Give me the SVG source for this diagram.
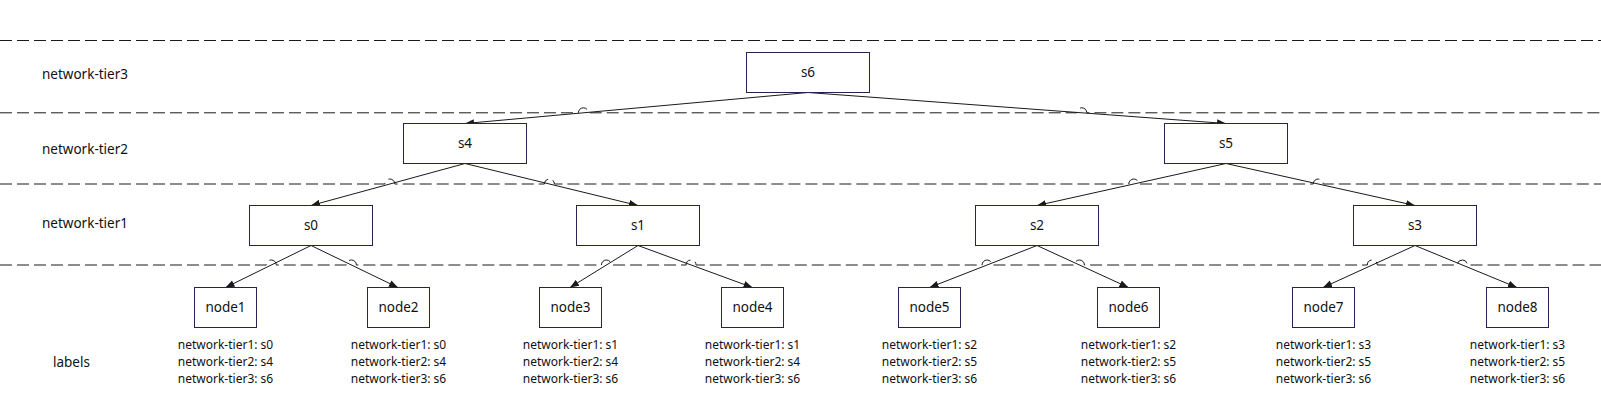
<svg xmlns="http://www.w3.org/2000/svg" width="1601" height="417" viewBox="0 0 1601 417">
<style>
  .tier { fill: none; stroke: #1a1a1a; stroke-width: 1; stroke-dasharray: 12 5; }
  .box { fill: #ffffff; stroke: #24244e; stroke-width: 1; }
  .edge { fill: none; stroke: #1a1a1a; stroke-width: 1; }
  .t { font-family: "Noto Sans", "Open Sans", sans-serif; fill: #111111; }
  .big { font-size: 13.5px; }
  .lbl { font-size: 12px; text-anchor: middle; }
  .c { text-anchor: middle; }
</style>
<defs>
  <marker id="arr" markerUnits="userSpaceOnUse" markerWidth="10" markerHeight="8" refX="9" refY="3.5" orient="auto">
    <path d="M0,0 L9,3.5 L0,7 z" fill="#1a1a1a"/>
  </marker>
</defs>
<rect width="1601" height="417" fill="#ffffff"/>

<g id="tiers">
  <path class="tier" d="M0,40.5 H1601"/>
  <path class="tier" d="M0,112.8 H578.4 A5,5 0 0 1 588.4,112.8 H1076.8 A5,5 0 0 1 1086.8,112.8 H1601"/>
  <path class="tier" d="M0,184 H384.8 A5,5 0 0 1 394.8,184 H544.4 A5,5 0 0 1 554.4,184 H1128.8 A5,5 0 0 1 1138.8,184 H1313.2 A5,5 0 0 1 1323.2,184 H1601"/>
  <path class="tier" d="M0,265 H266.3 A5,5 0 0 1 276.3,265 H346.4 A5,5 0 0 1 356.4,265 H601.4 A5,5 0 0 1 611.4,265 H686.1 A5,5 0 0 1 696.1,265 H982.1 A5,5 0 0 1 992.1,265 H1074.4 A5,5 0 0 1 1084.4,265 H1367.3 A5,5 0 0 1 1377.3,265 H1457.3 A5,5 0 0 1 1467.3,265 H1601"/>
  <text class="t big" x="42" y="78.7">network-tier3</text>
  <text class="t big" x="42" y="153.7">network-tier2</text>
  <text class="t big" x="42" y="227.7">network-tier1</text>
  <text class="t big" x="53" y="366.7">labels</text>
</g>

<g id="connectors">
  <line class="edge" x1="808" y1="92.5" x2="465" y2="123.5" marker-end="url(#arr)"/>
  <line class="edge" x1="808" y1="92.5" x2="1226" y2="123.5" marker-end="url(#arr)"/>
  <line class="edge" x1="465" y1="163.5" x2="311" y2="205.5" marker-end="url(#arr)"/>
  <line class="edge" x1="465" y1="163.5" x2="638" y2="205.5" marker-end="url(#arr)"/>
  <line class="edge" x1="1226" y1="163.5" x2="1037" y2="205.5" marker-end="url(#arr)"/>
  <line class="edge" x1="1226" y1="163.5" x2="1415" y2="205.5" marker-end="url(#arr)"/>
  <line class="edge" x1="311" y1="245.5" x2="225.5" y2="287.5" marker-end="url(#arr)"/>
  <line class="edge" x1="311" y1="245.5" x2="398" y2="287.5" marker-end="url(#arr)"/>
  <line class="edge" x1="638" y1="245.5" x2="570" y2="287.5" marker-end="url(#arr)"/>
  <line class="edge" x1="638" y1="245.5" x2="752.5" y2="287.5" marker-end="url(#arr)"/>
  <line class="edge" x1="1037" y1="245.5" x2="929.5" y2="287.5" marker-end="url(#arr)"/>
  <line class="edge" x1="1037" y1="245.5" x2="1128.5" y2="287.5" marker-end="url(#arr)"/>
  <line class="edge" x1="1415" y1="245.5" x2="1323" y2="287.5" marker-end="url(#arr)"/>
  <line class="edge" x1="1415" y1="245.5" x2="1517" y2="287.5" marker-end="url(#arr)"/>
</g>

<g id="s6"><rect class="box" x="746.5" y="52.5" width="123" height="40"/><text class="t big c" x="808" y="77.2">s6</text></g>
<g id="s4"><rect class="box" x="403.5" y="123.5" width="123" height="40"/><text class="t big c" x="465" y="148.2">s4</text></g>
<g id="s5"><rect class="box" x="1164.5" y="123.5" width="123" height="40"/><text class="t big c" x="1226" y="148.2">s5</text></g>
<g id="s0"><rect class="box" x="249.5" y="205.5" width="123" height="40"/><text class="t big c" x="311" y="230.2">s0</text></g>
<g id="s1"><rect class="box" x="576.5" y="205.5" width="123" height="40"/><text class="t big c" x="638" y="230.2">s1</text></g>
<g id="s2"><rect class="box" x="975.5" y="205.5" width="123" height="40"/><text class="t big c" x="1037" y="230.2">s2</text></g>
<g id="s3"><rect class="box" x="1353.5" y="205.5" width="123" height="40"/><text class="t big c" x="1415" y="230.2">s3</text></g>

<g id="node1"><rect class="box" x="194.5" y="287.5" width="62" height="40"/><text class="t big c" x="225.5" y="312">node1</text>
  <text class="t lbl" x="225.5" y="348.5">network-tier1: s0</text><text class="t lbl" x="225.5" y="365.5">network-tier2: s4</text><text class="t lbl" x="225.5" y="382.5">network-tier3: s6</text></g>
<g id="node2"><rect class="box" x="367.5" y="287.5" width="62" height="40"/><text class="t big c" x="398.5" y="312">node2</text>
  <text class="t lbl" x="398.5" y="348.5">network-tier1: s0</text><text class="t lbl" x="398.5" y="365.5">network-tier2: s4</text><text class="t lbl" x="398.5" y="382.5">network-tier3: s6</text></g>
<g id="node3"><rect class="box" x="539.5" y="287.5" width="62" height="40"/><text class="t big c" x="570.5" y="312">node3</text>
  <text class="t lbl" x="570.5" y="348.5">network-tier1: s1</text><text class="t lbl" x="570.5" y="365.5">network-tier2: s4</text><text class="t lbl" x="570.5" y="382.5">network-tier3: s6</text></g>
<g id="node4"><rect class="box" x="721.5" y="287.5" width="62" height="40"/><text class="t big c" x="752.5" y="312">node4</text>
  <text class="t lbl" x="752.5" y="348.5">network-tier1: s1</text><text class="t lbl" x="752.5" y="365.5">network-tier2: s4</text><text class="t lbl" x="752.5" y="382.5">network-tier3: s6</text></g>
<g id="node5"><rect class="box" x="898.5" y="287.5" width="62" height="40"/><text class="t big c" x="929.5" y="312">node5</text>
  <text class="t lbl" x="929.5" y="348.5">network-tier1: s2</text><text class="t lbl" x="929.5" y="365.5">network-tier2: s5</text><text class="t lbl" x="929.5" y="382.5">network-tier3: s6</text></g>
<g id="node6"><rect class="box" x="1097.5" y="287.5" width="62" height="40"/><text class="t big c" x="1128.5" y="312">node6</text>
  <text class="t lbl" x="1128.5" y="348.5">network-tier1: s2</text><text class="t lbl" x="1128.5" y="365.5">network-tier2: s5</text><text class="t lbl" x="1128.5" y="382.5">network-tier3: s6</text></g>
<g id="node7"><rect class="box" x="1292.5" y="287.5" width="62" height="40"/><text class="t big c" x="1323.5" y="312">node7</text>
  <text class="t lbl" x="1323.5" y="348.5">network-tier1: s3</text><text class="t lbl" x="1323.5" y="365.5">network-tier2: s5</text><text class="t lbl" x="1323.5" y="382.5">network-tier3: s6</text></g>
<g id="node8"><rect class="box" x="1486.5" y="287.5" width="62" height="40"/><text class="t big c" x="1517.5" y="312">node8</text>
  <text class="t lbl" x="1517.5" y="348.5">network-tier1: s3</text><text class="t lbl" x="1517.5" y="365.5">network-tier2: s5</text><text class="t lbl" x="1517.5" y="382.5">network-tier3: s6</text></g>
</svg>
